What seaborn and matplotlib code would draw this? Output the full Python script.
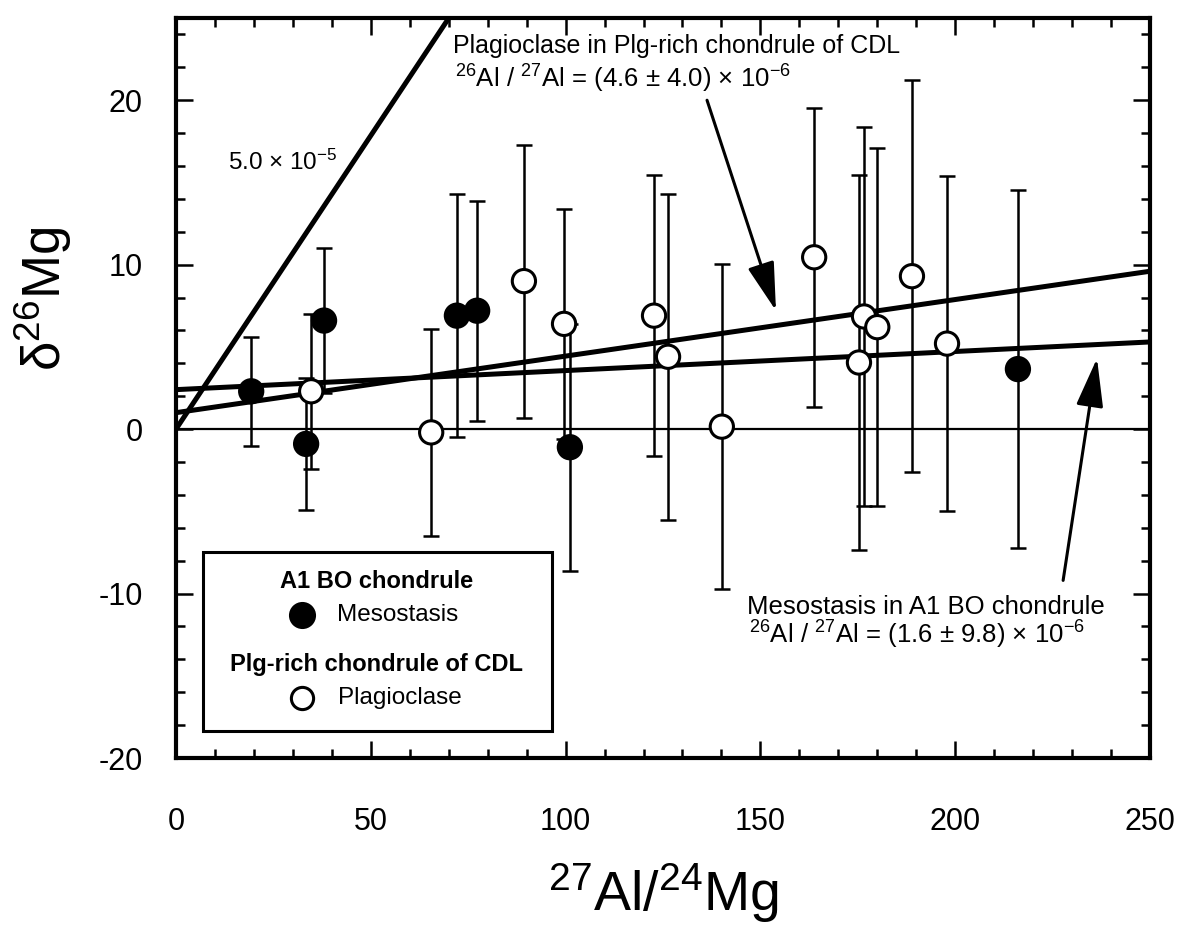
import matplotlib
matplotlib.use("Agg")
import matplotlib.pyplot as plt
from matplotlib.patches import Rectangle
from matplotlib.ticker import MultipleLocator
import pandas as pd
import seaborn as sns

sns.set_theme(style="ticks")
plt.rcParams["font.family"] = ["Liberation Sans", "DejaVu Sans"]
plt.rcParams["mathtext.fontset"] = "custom"
plt.rcParams["mathtext.rm"] = "Liberation Sans"
plt.rcParams["mathtext.it"] = "Liberation Sans:italic"
plt.rcParams["mathtext.bf"] = "Liberation Sans:bold"
plt.rcParams["axes.unicode_minus"] = False
plt.rcParams["text.color"] = "black"
plt.rcParams["axes.labelcolor"] = "black"

# A1 BO chondrule, mesostasis
meso_x = [19.3, 33.4, 38.0, 72.1, 77.3, 101.1, 216.1]
meso_y = [2.3, -0.9, 6.6, 6.9, 7.2, -1.1, 3.65]
meso_err = [3.3, 4.0, 4.4, 7.4, 6.7, 7.5, 10.9]

# Plg-rich chondrule of CDL, plagioclase
plag_x = [34.7, 65.5, 89.3, 99.6, 122.7, 126.3, 140.1, 163.8, 175.3, 176.6, 180.0, 188.9, 197.9]
plag_y = [2.3, -0.2, 9.0, 6.4, 6.9, 4.4, 0.15, 10.45, 4.05, 6.85, 6.2, 9.3, 5.2]
plag_err = [4.7, 6.3, 8.3, 7.0, 8.55, 9.9, 9.9, 9.1, 11.4, 11.5, 10.9, 11.9, 10.2]

# isochrons: reference 5.0e-5, plagioclase, mesostasis
line_intercept = [0.0, 1.0, 2.4]
line_slope = [0.357, 0.0344, 0.0116]

# arrows (tail, tip)
plag_arrow = [(136.3, 20.0), (154.0, 7.2)]
meso_arrow = [(227.7, -9.2), (236.4, 4.3)]

df = pd.DataFrame({
    "x": meso_x + plag_x,
    "y": meso_y + plag_y,
    "err": meso_err + plag_err,
    "group": ["Mesostasis"] * len(meso_x) + ["Plagioclase"] * len(plag_x),
})

fig = plt.figure(figsize=(11.78, 9.27), dpi=100)
ax = fig.add_axes([176 / 1178, 1 - 758 / 927, 974 / 1178, 740 / 927])

ax.axhline(0, color="black", lw=1.6, zorder=1)
for a, b in zip(line_intercept, line_slope):
    ax.axline((0, a), slope=b, color="black", lw=3.6, zorder=2)

ax.errorbar(df["x"], df["y"], yerr=df["err"], fmt="none", ecolor="black",
            elinewidth=1.8, capsize=6, capthick=1.8, zorder=3)

sns.scatterplot(data=df, x="x", y="y", hue="group",
                palette={"Mesostasis": "black", "Plagioclase": "white"},
                edgecolor="black", linewidth=2.2, s=280, legend=False,
                zorder=5, ax=ax)

ax.set_xlim(0, 250)
ax.set_ylim(-20, 25)
ax.xaxis.set_major_locator(MultipleLocator(50))
ax.xaxis.set_minor_locator(MultipleLocator(10))
ax.set_yticks([-20, -10, 0, 10, 20])
ax.yaxis.set_minor_locator(MultipleLocator(2))
ax.tick_params(which="both", direction="in", top=True, right=True, width=1.8,
               colors="black")
ax.tick_params(which="major", length=12, labelsize=22)
ax.tick_params(which="minor", length=6.5)
ax.tick_params(axis="x", which="major", pad=35)
ax.tick_params(axis="y", which="major", pad=24)
for s in ax.spines.values():
    s.set_linewidth(3)
    s.set_color("black")

ax.set_xlabel(r"$^{27}$Al/$^{24}$Mg", fontsize=40)
ax.xaxis.set_label_coords(0.5, -0.14)
ax.set_ylabel(r"δ$^{26}$Mg", fontsize=38)
ax.yaxis.set_label_coords(-0.105, 0.62)

# annotations
ax.text(13.3, 16.2, r"5.0 × 10$^{-5}$", fontsize=17.5, va="center", ha="left")
ax.text(71.1, 23.3, "Plagioclase in Plg-rich chondrule of CDL", fontsize=18,
        va="center", ha="left")
ax.text(71.6, 21.3, r"$^{26}$Al / $^{27}$Al = (4.6 ± 4.0) × 10$^{-6}$",
        fontsize=18.5, va="center", ha="left")
ax.text(146.6, -10.8, "Mesostasis in A1 BO chondrule", fontsize=18.5,
        va="center", ha="left")
ax.text(147.1, -12.5, r"$^{26}$Al / $^{27}$Al = (1.6 ± 9.8) × 10$^{-6}$",
        fontsize=18.5, va="center", ha="left")

for tail, tip in [plag_arrow, meso_arrow]:
    ax.annotate("", xy=tip, xytext=tail,
                arrowprops=dict(arrowstyle="-|>,head_length=1.5,head_width=0.42",
                                mutation_scale=20, color="black", lw=2.2,
                                shrinkA=0, shrinkB=0))

# legend box
ax.add_patch(Rectangle((0.0277, 0.0365), 0.358, 0.2415, transform=ax.transAxes,
                       facecolor="white", edgecolor="black", lw=2.2, zorder=6))
ax.text(0.206, 0.238, "A1 BO chondrule", transform=ax.transAxes, fontsize=17,
        fontweight="bold", ha="center", va="center", zorder=7)
ax.plot([0.129], [0.193], transform=ax.transAxes, marker="o", ms=17.5,
        mfc="black", mec="black", mew=2, zorder=7)
ax.text(0.165, 0.193, "Mesostasis", transform=ax.transAxes, fontsize=17.5,
        ha="left", va="center", zorder=7)
ax.text(0.206, 0.126, "Plg-rich chondrule of CDL", transform=ax.transAxes,
        fontsize=17, fontweight="bold", ha="center", va="center", zorder=7)
ax.plot([0.129], [0.081], transform=ax.transAxes, marker="o", ms=16,
        mfc="white", mec="black", mew=2.2, zorder=7)
ax.text(0.166, 0.081, "Plagioclase", transform=ax.transAxes, fontsize=17.5,
        ha="left", va="center", zorder=7)

fig.savefig("out.png", dpi=100)
